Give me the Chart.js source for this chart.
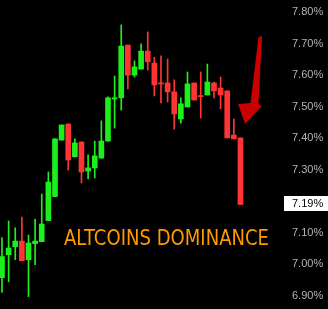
<!DOCTYPE html>
<html>
<head>
<meta charset="utf-8">
<script src="https://cdn.jsdelivr.net/npm/chart.js@4"></script>
<style>
  html, body { margin: 0; padding: 0; background: #000; }
  #wrap { width: 328px; height: 309px; }
</style>
</head>
<body>
<div id="wrap"><canvas id="c" width="328" height="309"></canvas></div>
<script>
// ---- data ----
const candleIndex = [0,1,2,3,4,5,6,7,8,9,10,11,12,13,14,15,16,17,18,19,20,21,22,23,24,25,26,27,28,29,30,31,32,33,34,35,36];
const opens  = [6.958,7.031,7.056,7.074,7.015,7.066,7.072,7.139,7.215,7.394,7.445,7.341,7.388,7.296,7.306,7.337,7.391,7.524,7.528,7.695,7.600,7.619,7.676,7.638,7.575,7.575,7.547,7.461,7.499,7.575,7.535,7.537,7.575,7.559,7.550,7.410,7.401];
const highs  = [7.085,7.138,7.116,7.150,7.093,7.144,7.223,7.293,7.398,7.442,7.445,7.398,7.388,7.347,7.391,7.455,7.531,7.597,7.759,7.695,7.645,7.699,7.737,7.657,7.661,7.651,7.585,7.528,7.610,7.575,7.610,7.635,7.578,7.594,7.550,7.461,7.401];
const lows   = [6.911,6.945,7.015,7.012,6.898,6.999,7.072,7.139,7.215,7.394,7.299,7.341,7.258,7.271,7.274,7.337,7.391,7.432,7.489,7.556,7.594,7.619,7.616,7.534,7.512,7.515,7.429,7.448,7.499,7.521,7.464,7.537,7.528,7.493,7.401,7.398,7.190];
const closes = [7.025,7.052,7.074,7.012,7.068,7.074,7.128,7.261,7.398,7.442,7.331,7.385,7.293,7.306,7.344,7.391,7.528,7.528,7.692,7.600,7.626,7.676,7.642,7.569,7.572,7.547,7.477,7.509,7.572,7.521,7.532,7.578,7.550,7.537,7.401,7.398,7.190];
const tickValues = [6.9,7.0,7.1,7.2,7.3,7.4,7.5,7.6,7.7,7.8];
const tickLabels = ['6.90%','7.00%','7.10%','7.20%','7.30%','7.40%','7.50%','7.60%','7.70%','7.80%'];
const lastPriceLabel = '7.19%';
const titleText = 'ALTCOINS DOMINANCE';

const GREEN = '#1cf01c';
const RED = '#ff3535';
const colors = candleIndex.map(i => closes[i] >= opens[i] ? GREEN : RED);

const wickData = candleIndex.map(i => ({ x: i, y: [lows[i], highs[i]] }));
const bodyData = candleIndex.map(i => ({ x: i, y: [opens[i], closes[i]] }));

const overlay = {
  id: 'overlay',
  afterDraw(chart) {
    const ctx = chart.ctx;
    const ys = chart.scales.y;
    // arrow
    ctx.save();
    ctx.fillStyle = '#c80000';
    ctx.beginPath();
    ctx.moveTo(258.5, 37);
    ctx.lineTo(262, 36);
    ctx.lineTo(258.5, 104);
    ctx.lineTo(262, 106);
    ctx.lineTo(245, 124);
    ctx.lineTo(238, 104);
    ctx.lineTo(250.5, 103);
    ctx.closePath();
    ctx.fill();
    ctx.restore();

    // title text
    ctx.save();
    ctx.font = '22px "DejaVu Sans"';
    ctx.fillStyle = '#ff9a00';
    ctx.textBaseline = 'alphabetic';
    const w = ctx.measureText(titleText).width;
    const target = 205;
    ctx.translate(64, 245);
    ctx.scale(target / w, 1);
    ctx.fillText(titleText, 0, 0);
    ctx.restore();

    // last price box
    const yp = ys.getPixelForValue(closes[closes.length - 1]);
    ctx.save();
    ctx.fillStyle = '#ffffff';
    ctx.fillRect(284, Math.round(yp) - 8, 44, 15);
    ctx.fillStyle = '#000000';
    ctx.font = '11px "Liberation Sans", Arial, sans-serif';
    ctx.textBaseline = 'middle';
    ctx.textAlign = 'left';
    ctx.fillText(lastPriceLabel, 292, Math.round(yp) - 0.5);
    ctx.restore();
  }
};

const bgPlugin = {
  id: 'bg',
  beforeDraw(chart) {
    const ctx = chart.ctx;
    ctx.save();
    ctx.fillStyle = '#000';
    ctx.fillRect(0, 0, chart.width, chart.height);
    ctx.restore();
  }
};

new Chart(document.getElementById('c'), {
  type: 'bar',
  data: {
    datasets: [
      {
        data: wickData,
        backgroundColor: colors,
        barThickness: 1,
        grouped: false,
        borderWidth: 0,
        minBarLength: 1,
        order: 2
      },
      {
        data: bodyData,
        backgroundColor: colors,
        barThickness: 5,
        grouped: false,
        borderWidth: 0,
        minBarLength: 1,
        order: 1
      }
    ]
  },
  options: {
    responsive: false,
    animation: false,
    devicePixelRatio: 1,
    layout: { padding: 0 },
    plugins: { legend: { display: false }, tooltip: { enabled: false } },
    scales: {
      x: {
        type: 'linear',
        display: false,
        offset: false,
        min: -0.3,
        max: 42.57
      },
      y: {
        position: 'right',
        min: 6.8588,
        max: 7.838,
        grid: { display: false, drawTicks: false, tickLength: 0 },
        border: { display: false },
        afterBuildTicks(scale) {
          scale.ticks = tickValues.map(v => ({ value: v }));
        },
        afterFit(scale) {
          scale.width = 44;
          scale.paddingTop = 0;
          scale.paddingBottom = 0;
        },
        ticks: {
          autoSkip: false,
          padding: 8,
          color: '#b4b4b4',
          font: { family: '"Liberation Sans", Arial, sans-serif', size: 11 },
          callback: (v, i) => tickLabels[i]
        }
      }
    }
  },
  plugins: [bgPlugin, overlay]
});
</script>
</body>
</html>
